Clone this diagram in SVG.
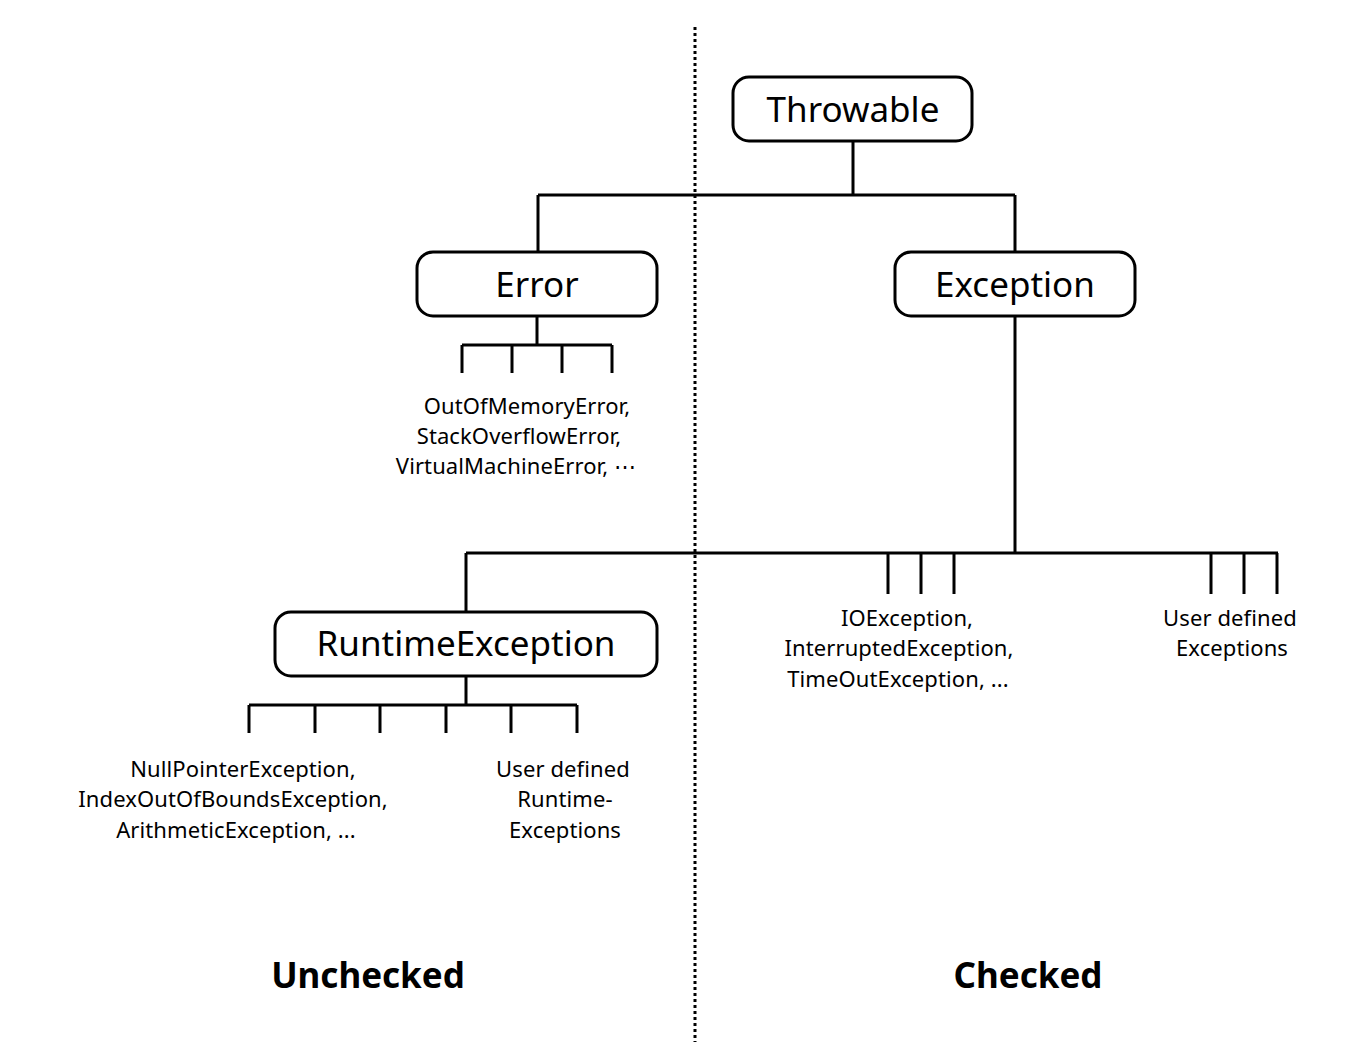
<svg xmlns="http://www.w3.org/2000/svg" width="1364" height="1050" viewBox="0 0 1364 1050">
<style>
.box{fill:#fff;stroke:#000;stroke-width:3}
.ln{fill:none;stroke:#000;stroke-width:3}
.big{font-family:"Noto Sans","Open Sans",sans-serif;font-size:35px;text-anchor:middle;fill:#000}
.sm{font-family:"Noto Sans","Open Sans",sans-serif;font-size:22px;letter-spacing:0.1px;text-anchor:middle;fill:#000}
.hd{font-family:"Noto Sans","Open Sans",sans-serif;font-size:35px;font-weight:bold;text-anchor:middle;fill:#000}
</style>
<rect width="1364" height="1050" fill="#fff"/>
<line x1="695" y1="27" x2="695" y2="1042" stroke="#000" stroke-width="3" stroke-dasharray="3,3"/>
<g id="connectors">
<path class="ln" d="M853 141V195M538 195H1015M538 195V252M1015 195V252"/>
<path class="ln" d="M537 316V345M462 345H612M462 345V373M512 345V373M562 345V373M612 345V373"/>
<path class="ln" d="M1015 316V553M466 553H1278M466 553V612M888 553V594M921 553V594M954 553V594M1211 553V594M1244 553V594M1277 553V594"/>
<path class="ln" d="M466 676V705M249 705H577M249 705V733M315 705V733M380 705V733M446 705V733M511 705V733M577 705V733"/>
</g>
<g id="throwable"><rect class="box" x="733" y="77" width="239" height="64" rx="16"/><text class="big" x="853" y="122">Throwable</text></g>
<g id="error"><rect class="box" x="417" y="252" width="240" height="64" rx="16"/><text class="big" x="537" y="297">Error</text></g>
<g id="exception"><rect class="box" x="895" y="252" width="240" height="64" rx="16"/><text class="big" x="1015" y="297">Exception</text></g>
<g id="runtime"><rect class="box" x="275" y="612" width="382" height="64" rx="16"/><text class="big" x="466" y="656">RuntimeException</text></g>
<g id="error-subs"><text class="sm" x="527" y="414">OutOfMemoryError,</text><text class="sm" x="519" y="444">StackOverflowError,</text><text class="sm" x="516" y="474">VirtualMachineError, ⋯</text></g>
<g id="checked-subs"><text class="sm" x="907" y="626">IOException,</text><text class="sm" x="899" y="656">InterruptedException,</text><text class="sm" x="898" y="687">TimeOutException, ...</text></g>
<g id="user-exc"><text class="sm" x="1230" y="626">User defined</text><text class="sm" x="1232" y="656">Exceptions</text></g>
<g id="runtime-subs"><text class="sm" x="243" y="777">NullPointerException,</text><text class="sm" x="233" y="807">IndexOutOfBoundsException,</text><text class="sm" x="236" y="838">ArithmeticException, ...</text></g>
<g id="user-runtime"><text class="sm" x="563" y="777">User defined</text><text class="sm" x="565" y="807">Runtime-</text><text class="sm" x="565" y="838">Exceptions</text></g>
<text class="hd" x="368" y="988">Unchecked</text>
<text class="hd" x="1028" y="988">Checked</text>
</svg>
